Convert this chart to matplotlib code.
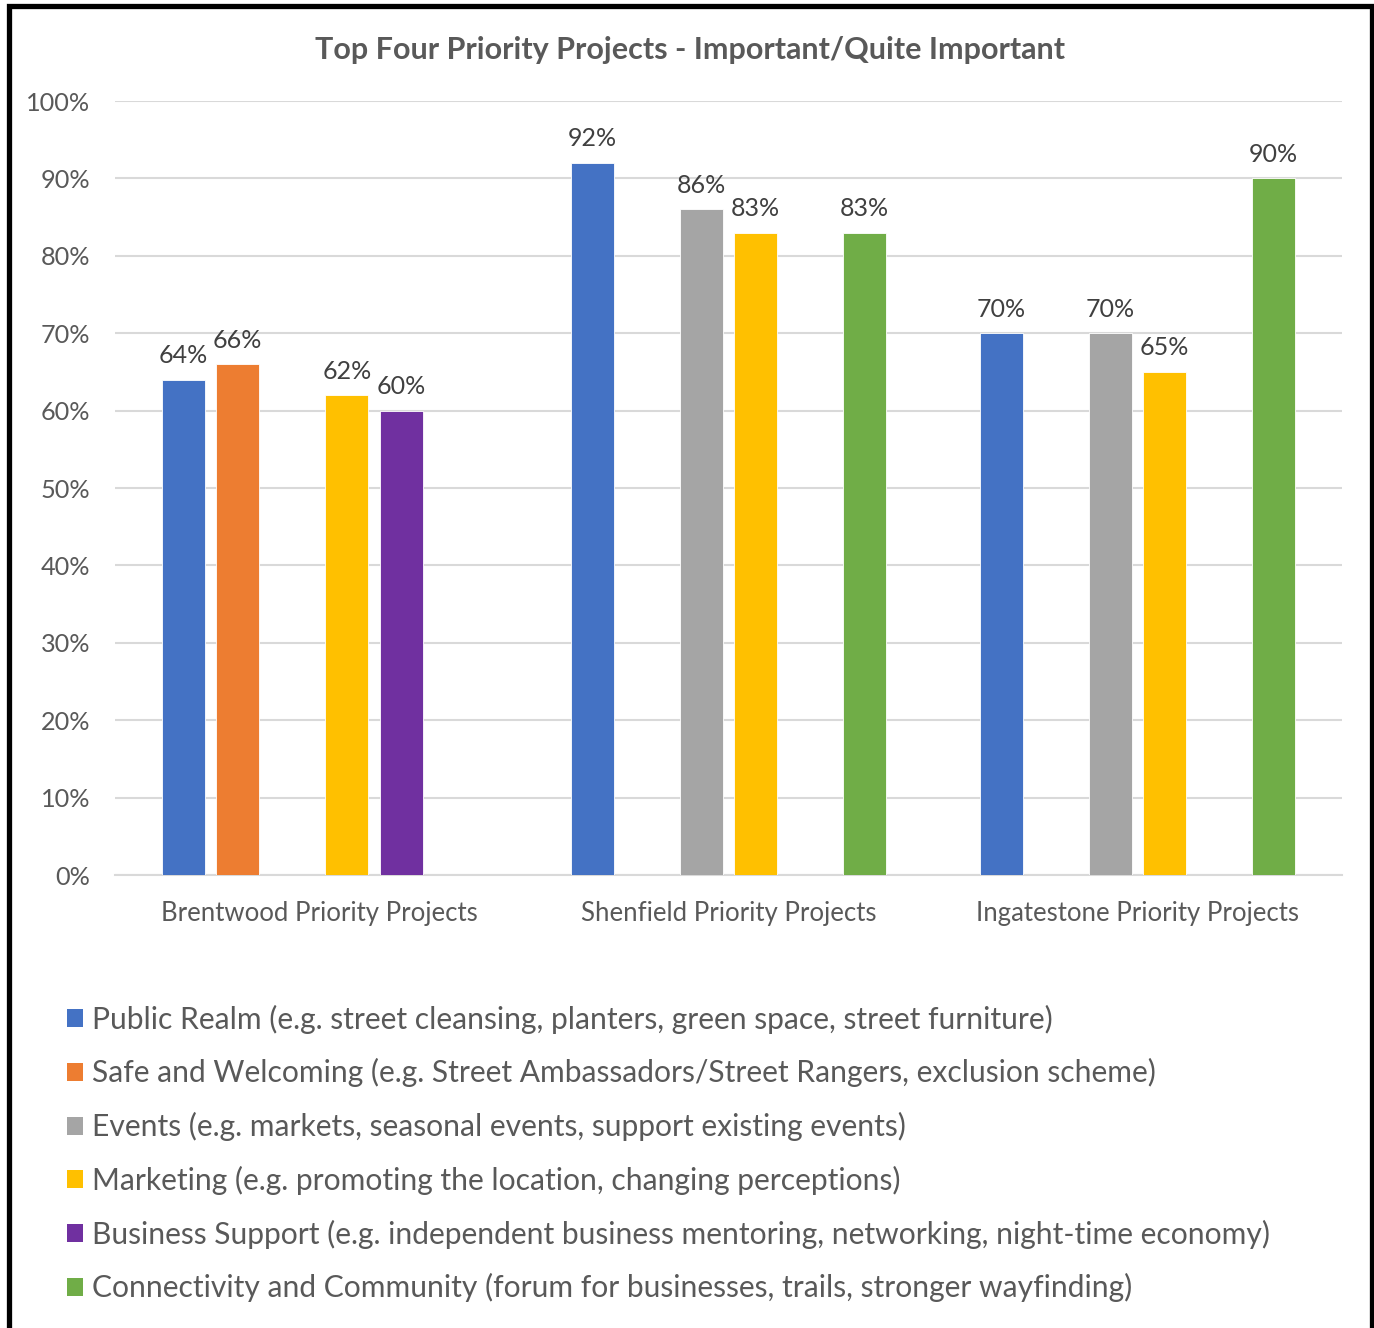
import numpy as np
import matplotlib.pyplot as plt
from matplotlib.patches import Patch, Rectangle

# categories and series (percent values, None = not in that town's top four)
categories = ["Brentwood Priority Projects", "Shenfield Priority Projects",
              "Ingatestone Priority Projects"]
series_names = [
    "Public Realm (e.g. street cleansing, planters, green space, street furniture)",
    "Safe and Welcoming (e.g. Street Ambassadors/Street Rangers, exclusion scheme)",
    "Events (e.g. markets, seasonal events, support existing events)",
    "Marketing (e.g. promoting the location, changing perceptions)",
    "Business Support (e.g. independent business mentoring, networking, night-time economy)",
    "Connectivity and Community (forum for businesses, trails, stronger wayfinding)",
]
public_realm = [64, 92, 70]
safe_welcoming = [66, None, None]
events = [None, 86, 70]
marketing = [62, 83, 65]
business_support = [60, None, None]
connectivity = [None, 83, 90]
series_values = [public_realm, safe_welcoming, events, marketing,
                 business_support, connectivity]
colors = ["#4472C4", "#ED7D31", "#A5A5A5", "#FFC000", "#7030A0", "#70AD47"]

plt.rcParams['font.family'] = ['Lato', 'DejaVu Sans']

fig = plt.figure(figsize=(13.74, 13.28), dpi=100)
ax = fig.add_axes([0.0837, 0.3411, 0.8930, 0.5828])

step = 0.1333
width = 0.105
for i, vals in enumerate(series_values):
    xs = [c + (i - 2.5) * step for c, v in enumerate(vals) if v is not None]
    ys = [v for v in vals if v is not None]
    bars = ax.bar(xs, ys, width=width, color=colors[i], edgecolor='white',
                  linewidth=0.6, zorder=3)
    ax.bar_label(bars, labels=[f"{v}%" for v in ys], padding=9,
                 fontsize=18, color='#404040')

ax.set_xlim(-0.5, 2.5)
ax.set_ylim(0, 100)
ax.set_yticks(np.arange(0, 101, 10))
ax.set_yticklabels([f"{t}%" for t in range(0, 101, 10)])
ax.set_xticks(range(3))
ax.set_xticklabels(categories)
ax.tick_params(axis='y', length=0, pad=18, labelsize=18.2, labelcolor='#595959')
ax.tick_params(axis='x', length=0, pad=18.5, labelsize=18.5, labelcolor='#595959')
ax.grid(axis='y', color='#D9D9D9', linewidth=1.5, zorder=0)
for s in ['top', 'right', 'left']:
    ax.spines[s].set_visible(False)
ax.spines['bottom'].set_color('#D9D9D9')
ax.spines['bottom'].set_linewidth(1.5)

fig.text(0.502, 0.962, "Top Four Priority Projects - Important/Quite Important",
         ha='center', va='center', fontsize=22, fontweight='bold', color='#595959')

handles = [Patch(facecolor=c, edgecolor='none') for c in colors]
fig.legend(handles, series_names, loc='upper left',
           bbox_to_anchor=(0.040, 0.2525), frameon=False, fontsize=21.6,
           labelcolor='#595959', handlelength=0.55, handleheight=0.55,
           handletextpad=0.3, labelspacing=0.82, borderaxespad=0)

# black frame around the chart (bottom edge falls outside the image)
fig.patches.append(Rectangle((8.5 / 1374, -0.05), (1371.5 - 8.5) / 1374, 1.05 - 5.5 / 1328,
                             transform=fig.transFigure, fill=False,
                             edgecolor='black', linewidth=3.8))

fig.savefig("out.png", dpi=100)
